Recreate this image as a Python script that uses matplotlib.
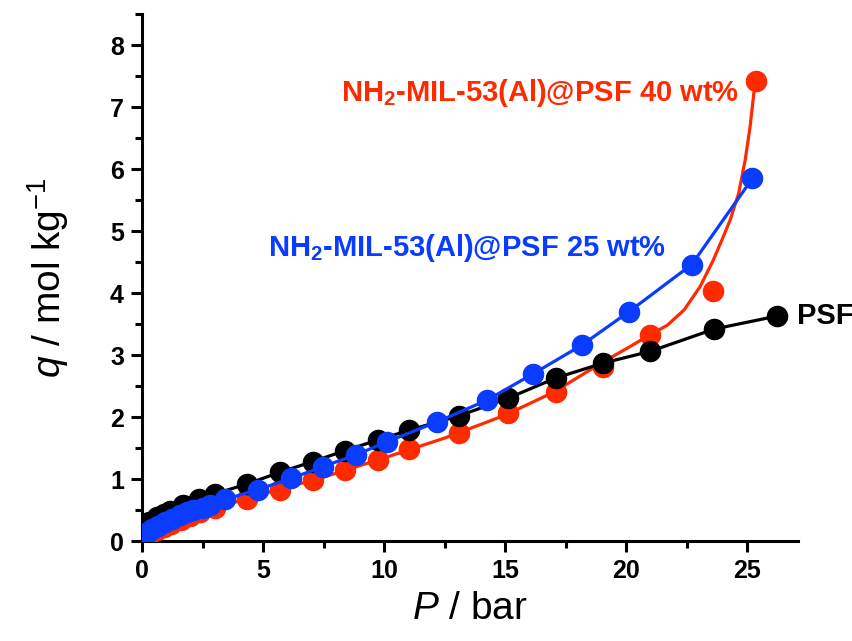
import numpy as np
import matplotlib
matplotlib.use('Agg')
import matplotlib.pyplot as plt
from matplotlib.ticker import MultipleLocator

plt.rcParams['font.family'] = ['Liberation Sans', 'DejaVu Sans']
plt.rcParams['mathtext.fontset'] = 'custom'
plt.rcParams['mathtext.rm'] = 'Liberation Sans'
plt.rcParams['mathtext.it'] = 'Liberation Sans:italic'
plt.rcParams['mathtext.bf'] = 'Liberation Sans:bold'

# PSF
psf_p = [0.1, 0.3, 0.6, 0.9, 1.15, 1.7, 2.35, 3.0, 4.35, 5.7, 7.05, 8.4, 9.75,
         11.05, 13.1, 15.1, 17.1, 19.05, 21.0, 23.65, 26.25]
psf_q = [0.2, 0.3, 0.38, 0.43, 0.48, 0.58, 0.68, 0.76, 0.92, 1.11, 1.28, 1.46,
         1.63, 1.79, 2.02, 2.30, 2.63, 2.87, 3.06, 3.42, 3.63]

# NH2-MIL-53(Al)@PSF 25 wt%
m25_p = [0.1, 0.25, 0.4, 0.65, 0.95, 1.25, 1.57, 1.85, 2.12, 2.5, 2.81, 3.43,
         4.78, 6.16, 7.47, 8.84, 10.11, 12.18, 14.24, 16.17, 18.17, 20.12,
         22.71, 25.22]
m25_q = [0.08, 0.14, 0.2, 0.25, 0.31, 0.36, 0.42, 0.46, 0.5, 0.54, 0.58, 0.67,
         0.83, 1.01, 1.20, 1.39, 1.60, 1.92, 2.27, 2.70, 3.16, 3.70, 4.46, 5.85]

# NH2-MIL-53(Al)@PSF 40 wt%
m40_p = [0.1, 0.3, 0.6, 0.9, 1.2, 1.6, 2.0, 2.4, 3.0, 4.35, 5.7, 7.05, 8.4,
         9.75, 11.05, 13.1, 15.1, 17.1, 19.05, 21.0, 23.6, 25.35]
m40_q = [0.05, 0.1, 0.17, 0.22, 0.28, 0.34, 0.4, 0.46, 0.53, 0.67, 0.82, 0.98,
         1.15, 1.31, 1.48, 1.75, 2.06, 2.41, 2.80, 3.32, 4.03, 7.42]
# fitted curve for 40 wt%
fit40_p = [0, 1, 2.5, 5, 7.5, 10, 12.5, 15, 17, 19.1, 20.0, 21.0, 21.7, 22.4,
           23.05, 23.6, 23.95, 24.3, 24.65, 24.92, 25.12, 25.33]
fit40_q = [0, 0.25, 0.47, 0.76, 1.03, 1.34, 1.66, 2.03, 2.40, 2.9, 3.1, 3.33,
           3.48, 3.73, 4.1, 4.53, 4.85, 5.18, 5.61, 6.15, 6.68, 7.41]

red = '#ff2a00'
blue = '#0a3cff'

fig = plt.figure(figsize=(8.53, 6.41), dpi=100)
ax = fig.add_axes([0.1665, 0.156, 0.769, 0.822])

ax.plot(fit40_p, fit40_q, color=red, lw=2.3, zorder=2)
ax.plot(m40_p, m40_q, 'o', color=red, ms=14.5, zorder=3)
ax.plot(psf_p, psf_q, '-o', color='black', lw=2.3, ms=14.5, zorder=4)
ax.plot(m25_p, m25_q, '-o', color=blue, lw=2.3, ms=14.5, zorder=5)

ax.text(8.2, 7.23, r'NH$_\mathbf{2}$-MIL-53(Al)@PSF 40 wt%', color=red,
        fontsize=21, fontweight='bold', va='center')
ax.text(5.2, 4.73, r'NH$_\mathbf{2}$-MIL-53(Al)@PSF 25 wt%', color=blue,
        fontsize=21, fontweight='bold', va='center')
ax.text(27.05, 3.63, 'PSF', color='black', fontsize=21, fontweight='bold',
        va='center', clip_on=False)

ax.set_xlim(0, 27.1)
ax.set_ylim(0, 8.5)
ax.xaxis.set_major_locator(MultipleLocator(5))
ax.xaxis.set_minor_locator(MultipleLocator(2.5))
ax.yaxis.set_major_locator(MultipleLocator(1))
ax.yaxis.set_minor_locator(MultipleLocator(0.5))

for side in ['top', 'right']:
    ax.spines[side].set_visible(False)
for side in ['left', 'bottom']:
    ax.spines[side].set_linewidth(2.2)

ax.tick_params(which='major', direction='out', length=8, width=2.2,
               labelsize=18, pad=5)
ax.tick_params(which='minor', direction='out', length=5, width=2.2)
for lab in ax.get_xticklabels() + ax.get_yticklabels():
    lab.set_fontweight('bold')

ax.set_xlabel(r'$P$ / bar', fontsize=28, labelpad=6)
ax.set_ylabel(r'$q$ / mol kg$^{-1}$', fontsize=28, labelpad=28)

fig.savefig('out.png', dpi=100)
